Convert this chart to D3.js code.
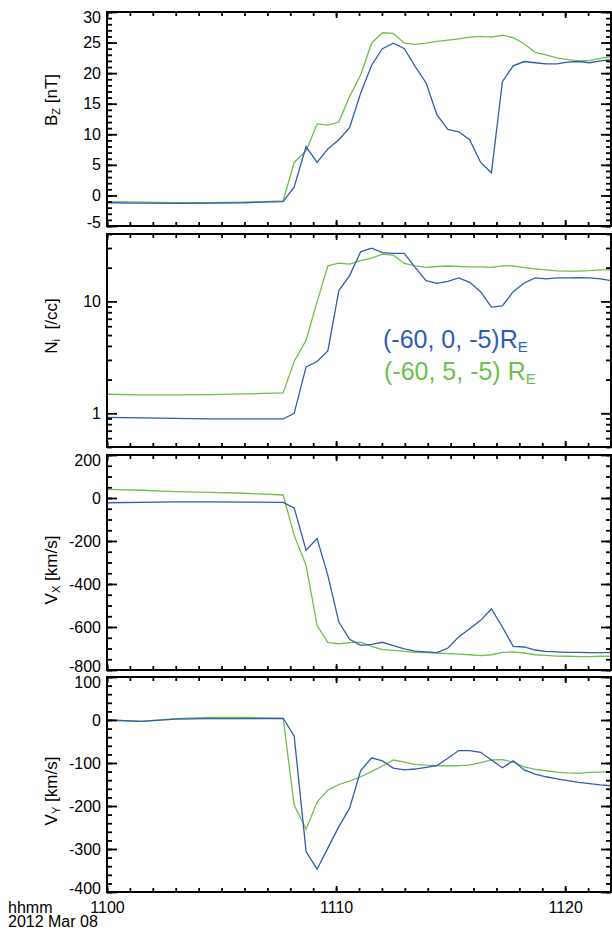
<!DOCTYPE html>
<html>
<head>
<meta charset="utf-8">
<script src="https://cdn.jsdelivr.net/npm/d3@7"></script>
<style>
  body { margin: 0; background: #fff; }
  svg text { font-family: "Liberation Sans", Arial, sans-serif; fill: #000; }
</style>
</head>
<body>
<div id="chart"></div>
<script>
// sample times, hhmm as decimal minutes
var times = [1100, 1101.5, 1103, 1104.5, 1106, 1107.69, 1108.17, 1108.69, 1109.17, 1109.64,
  1110.12, 1110.59, 1111.07, 1111.55, 1112.02, 1112.5, 1112.98, 1113.45, 1113.93, 1114.4,
  1114.88, 1115.35, 1115.83, 1116.31, 1116.78, 1117.26, 1117.73, 1118.21, 1118.69, 1119.16,
  1119.64, 1120.11, 1120.59, 1121.07, 1121.54, 1122.02];

// Bz [nT]
var bzBlue = [-1.2, -1.25, -1.3, -1.25, -1.2, -1.0, 1.4, 8.0, 5.4, 7.6, 9.1, 11.1, 16.7, 21.3, 24.0,
  24.9, 24.0, 21.1, 18.4, 13.2, 10.8, 10.4, 9.1, 5.4, 3.7, 18.6, 21.2, 21.9, 21.7, 21.5, 21.5,
  21.8, 21.9, 21.7, 22.0, 22.2];
var bzGreen = [-1.0, -1.1, -1.2, -1.2, -1.1, -0.9, 5.4, 7.3, 11.7, 11.5, 12.0, 16.2, 19.7, 24.9, 26.6,
  26.5, 24.9, 24.7, 24.9, 25.2, 25.4, 25.6, 25.9, 26.0, 25.9, 26.2, 25.8, 24.8, 23.4, 23.0, 22.5,
  22.2, 22.0, 22.1, 22.4, 22.7];

// Ni [/cc]
var niBlue = [0.92, 0.91, 0.90, 0.89, 0.89, 0.89, 1.0, 2.6, 2.9, 3.6, 12.5, 17, 27.7, 29.9, 27.3,
  26.9, 26.8, 20.1, 15.3, 14.5, 15.1, 16.2, 14.8, 12.2, 8.9, 9.1, 12.2, 14.6, 16.2, 15.9, 16.2,
  16.2, 16.3, 16.2, 15.9, 15.3];
var niGreen = [1.48, 1.46, 1.46, 1.47, 1.49, 1.52, 2.9, 4.5, 9.9, 20.8, 22.0, 21.5, 23.1, 24.3, 26.4,
  25.9, 21.8, 20.8, 20.1, 20.5, 20.7, 20.5, 20.3, 20.3, 20.1, 20.8, 20.7, 20.0, 19.5, 19.1, 18.7,
  18.6, 18.6, 18.8, 19.1, 19.1];

// Vx [km/s]
var vxBlue = [-22, -20, -18, -18, -19, -20, -46, -243, -189, -360, -577, -657, -685, -681, -671,
  -687, -702, -712, -716, -719, -698, -647, -608, -569, -516, -600, -690, -693, -707, -713, -716,
  -718, -718, -719, -719, -719];
var vxGreen = [40, 36, 30, 26, 22, 14, -174, -313, -592, -673, -678, -673, -670, -690, -705,
  -709, -713, -718, -719, -721, -724, -726, -729, -733, -729, -718, -716, -721, -729, -732, -735,
  -736, -738, -738, -736, -736];

// Vy [km/s]
var vyBlue = [0, -3, 2, 3, 3, 4, -37, -306, -347, -298, -248, -205, -118, -88, -95,
  -112, -116, -114, -110, -106, -89, -71, -71, -75, -93, -111, -95, -116, -126, -132, -137,
  -141, -145, -148, -151, -153];
var vyGreen = [0, -3, 3, 6, 6, 4, -198, -254, -191, -163, -150, -142, -132, -120, -107,
  -93, -98, -103, -105, -106, -107, -106, -105, -99, -93, -92, -98, -109, -115, -118, -121,
  -123, -124, -122, -121, -120];

// tick labels
var xTicks = [1100, 1110, 1120];
var bzTicks = [-5, 0, 5, 10, 15, 20, 25, 30];
var niTicks = [1, 10];
var vxTicks = [-800, -600, -400, -200, 0, 200];
var vyTicks = [-400, -300, -200, -100, 0, 100];

var legendBlue = "(-60, 0, -5)R";
var legendGreen = "(-60, 5, -5) R";

var blue = "#2f5db4";
var green = "#6cc04c";

var left = 107, right = 611;

var panels = [
  { top: 12, bottom: 226, domain: [-5, 30], log: false, ticks: bzTicks,
    minor: d3.range(-5, 31, 1), name: "B", sub: "Z", unit: " [nT]", labelY: 100,
    blue: bzBlue, green: bzGreen },
  { top: 234, bottom: 447, domain: [0.5, 40], log: true, ticks: niTicks,
    minor: [0.5, 0.6, 0.7, 0.8, 0.9, 2, 3, 4, 5, 6, 7, 8, 9, 20, 30, 40], name: "N", sub: "i",
    unit: "  [/cc]", labelY: 326, blue: niBlue, green: niGreen },
  { top: 455, bottom: 670, domain: [-800, 200], log: false, ticks: vxTicks,
    minor: d3.range(-800, 201, 50), name: "V", sub: "X", unit: " [km/s]", labelY: 570,
    blue: vxBlue, green: vxGreen },
  { top: 677, bottom: 892, domain: [-400, 100], log: false, ticks: vyTicks,
    minor: d3.range(-400, 101, 20), name: "V", sub: "Y", unit: " [km/s]", labelY: 791,
    blue: vyBlue, green: vyGreen }
];

var svg = d3.select("#chart").append("svg")
  .attr("width", 612)
  .attr("height", 932);

var x = d3.scaleLinear().domain([1100, 1122]).range([left, right]);
var xMinor = d3.range(1100, 1123, 1);

function styleAxis(g, fontSize) {
  g.select(".domain").remove();
  g.selectAll("line").attr("stroke", "#000").attr("stroke-width", 1.8);
  g.selectAll("text").attr("font-size", fontSize).attr("fill", "#000")
    .attr("font-family", "Liberation Sans, Arial, sans-serif");
}

panels.forEach(function (p, i) {
  var y = (p.log ? d3.scaleLog() : d3.scaleLinear())
    .domain(p.domain)
    .range([p.bottom, p.top]);

  var g = svg.append("g");

  // clip so lines stay inside the frame
  g.append("clipPath").attr("id", "clip" + i)
    .append("rect")
    .attr("x", left).attr("y", p.top)
    .attr("width", right - left).attr("height", p.bottom - p.top);

  // the two series
  var line = d3.line()
    .x(function (d, j) { return x(times[j]); })
    .y(function (d) { return y(d); });

  g.append("path").datum(p.green)
    .attr("clip-path", "url(#clip" + i + ")")
    .attr("fill", "none").attr("stroke", green).attr("stroke-width", 1.3)
    .attr("d", line);
  g.append("path").datum(p.blue)
    .attr("clip-path", "url(#clip" + i + ")")
    .attr("fill", "none").attr("stroke", blue).attr("stroke-width", 1.3)
    .attr("d", line);

  // left axis, majors with labels
  var yl = g.append("g").attr("transform", "translate(" + left + ",0)")
    .call(d3.axisLeft(y).tickValues(p.ticks).tickSize(-10).tickPadding(6)
      .tickFormat(function (d) { return d; }));
  styleAxis(yl, 16);
  // pull the end labels inside the frame like the original
  yl.selectAll("text").attr("y", function (d) {
    if (d === p.domain[1]) return 5;
    if (d === p.domain[0]) return -4;
    return 0;
  });
  var ylm = g.append("g").attr("transform", "translate(" + left + ",0)")
    .call(d3.axisLeft(y).tickValues(p.minor).tickSize(-5).tickFormat(""));
  styleAxis(ylm, 16);

  // right axis, no labels
  var yr = g.append("g").attr("transform", "translate(" + right + ",0)")
    .call(d3.axisRight(y).tickValues(p.ticks).tickSize(-10).tickFormat(""));
  styleAxis(yr, 16);
  var yrm = g.append("g").attr("transform", "translate(" + right + ",0)")
    .call(d3.axisRight(y).tickValues(p.minor).tickSize(-5).tickFormat(""));
  styleAxis(yrm, 16);

  // top and bottom time ticks
  var xt = g.append("g").attr("transform", "translate(0," + p.top + ")")
    .call(d3.axisTop(x).tickValues(xTicks).tickSize(-6).tickFormat(""));
  styleAxis(xt, 16);
  var xtm = g.append("g").attr("transform", "translate(0," + p.top + ")")
    .call(d3.axisTop(x).tickValues(xMinor).tickSize(-4).tickFormat(""));
  styleAxis(xtm, 16);

  var last = i === panels.length - 1;
  var xb = g.append("g").attr("transform", "translate(0," + p.bottom + ")")
    .call(d3.axisBottom(x).tickValues(xTicks).tickSize(-6).tickPadding(10)
      .tickFormat(last ? function (d) { return d; } : ""));
  styleAxis(xb, 16);
  var xbm = g.append("g").attr("transform", "translate(0," + p.bottom + ")")
    .call(d3.axisBottom(x).tickValues(xMinor).tickSize(-4).tickFormat(""));
  styleAxis(xbm, 16);

  // frame
  g.append("rect")
    .attr("x", left).attr("y", p.top)
    .attr("width", right - left).attr("height", p.bottom - p.top)
    .attr("fill", "none").attr("stroke", "#000").attr("stroke-width", 2);

  // y label with subscript
  var lab = g.append("text")
    .attr("transform", "translate(57," + p.labelY + ") rotate(-90)")
    .attr("text-anchor", "middle")
    .attr("font-size", 17);
  lab.append("tspan").text(p.name);
  lab.append("tspan").attr("font-size", 11).attr("dy", 3).text(p.sub);
  lab.append("tspan").attr("dy", -3).style("white-space", "pre").text(p.unit);
});

// legend in the density panel
var l1 = svg.append("text").attr("x", 383).attr("y", 348)
  .attr("font-size", 25).style("fill", blue);
l1.append("tspan").text(legendBlue);
l1.append("tspan").attr("font-size", 15).attr("dy", 4).text("E");

var l2 = svg.append("text").attr("x", 384).attr("y", 380)
  .attr("font-size", 25).style("fill", green);
l2.append("tspan").text(legendGreen);
l2.append("tspan").attr("font-size", 15).attr("dy", 4).text("E");

// time axis caption
svg.append("text").attr("x", 8).attr("y", 913).attr("font-size", 16).text("hhmm");
svg.append("text").attr("x", 8).attr("y", 927).attr("font-size", 16).text("2012 Mar 08");
</script>
</body>
</html>
